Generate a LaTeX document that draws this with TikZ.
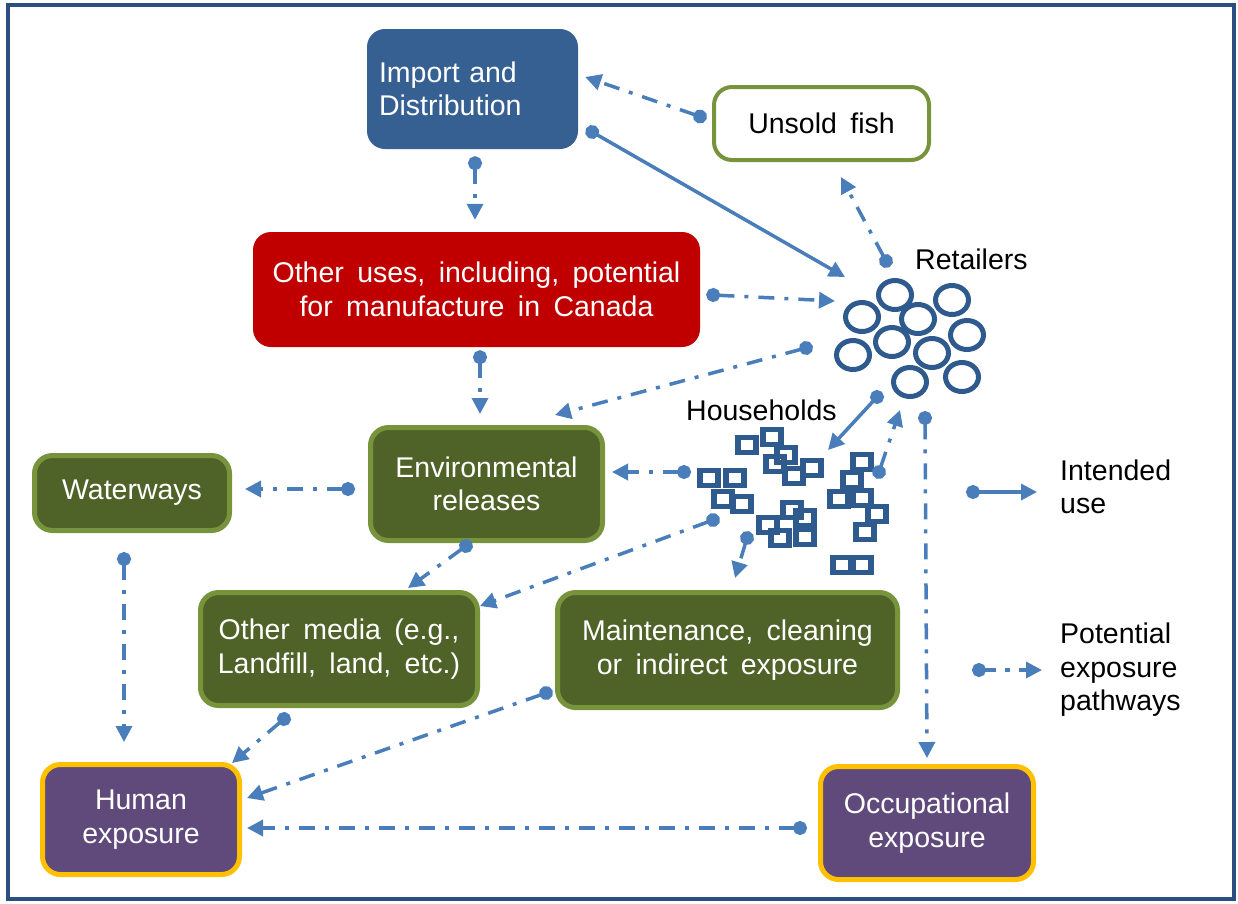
\documentclass[tikz,border=0pt]{standalone}
\usepackage{fontspec}
\setmainfont{Liberation Sans}
\usetikzlibrary{arrows.meta,calc}
\definecolor{ablue}{HTML}{4A7EBB}
\definecolor{impblue}{HTML}{376092}
\definecolor{redfill}{HTML}{C00000}
\definecolor{gfill}{HTML}{4F6228}
\definecolor{gline}{HTML}{77933C}
\definecolor{pfill}{HTML}{604A7B}
\definecolor{gold}{HTML}{FFC000}
\definecolor{shapeblue}{HTML}{2F5A8E}
\definecolor{frameblue}{HTML}{2A4F80}
\newcommand{\diagfont}{\fontsize{28.5}{33.5}\selectfont\spaceskip=0.47em plus 0.1em minus 0.05em\relax}
\begin{document}
\begin{tikzpicture}[x=1pt,y=-1pt,
  font=\diagfont,
  box/.style={rounded corners=18pt, align=center, inner sep=0pt, text=white},
  greenbox/.style={box, fill=gfill, draw=gline, line width=5pt},
  purplebox/.style={box, fill=pfill, draw=gold, line width=5pt},
  pw/.style={draw=ablue, line width=3.5pt, dash pattern=on 16pt off 10pt on 4pt off 10pt,
    {Circle[length=14pt]}-{Triangle[length=16pt,width=16pt]}, shorten <=-7pt},
  iu/.style={draw=ablue, line width=3.5pt,
    {Circle[length=14pt]}-{Triangle[length=16pt,width=16pt]}, shorten <=-7pt},
  lbl/.style={text=black, inner sep=0pt},
  ring/.style={draw=shapeblue, line width=5pt},
  sq/.style={draw=shapeblue, line width=5.5pt}]
\useasboundingbox (0,0) rectangle (1238,903);
\draw[frameblue, line width=4.5pt] (8,5) rectangle (1234,899);

% nodes
\node[box, fill=impblue, minimum width=211pt, minimum height=120pt, text width=187pt, align=left, inner xsep=12pt] (imp) at (472.5,89) {Import and\\Distribution};
\node[box, fill=white, text=black, draw=gline, line width=4pt, minimum width=215pt, minimum height=73pt] (uns) at (821.5,123.5) {Unsold fish};
\node[box, fill=redfill, minimum width=447pt, minimum height=115pt] (oth) at (476.5,289.5) {Other uses, including, potential\\for manufacture in Canada};
\node[greenbox, minimum width=232pt, minimum height=113pt] (env) at (486.5,484) {Environmental\\releases};
\node[greenbox, minimum width=195pt, minimum height=75pt] (wat) at (132,493) {Waterways};
\node[greenbox, minimum width=277pt, minimum height=113pt] (med) at (339,649) {Other media (e.g.,\\Landfill, land, etc.)};
\node[greenbox, minimum width=340pt, minimum height=115pt] (mnt) at (727.5,650) {Maintenance, cleaning\\or indirect exposure};
\node[purplebox, minimum width=197pt, minimum height=110pt] (hum) at (141,819.5) {Human\\exposure};
\node[purplebox, minimum width=213pt, minimum height=113pt] (occ) at (927,823) {Occupational\\exposure};

% retailers
\coordinate (ret) at (910,338);
\node[lbl, anchor=west] (retl) at (915,259) {Retailers};
\foreach \cx/\cy in {895/295, 952/300, 862/317, 918/319, 967/335, 892/342, 853/355, 932/353, 910/382, 962/377}
  \draw[ring] (\cx,\cy) ellipse [x radius=16.5pt, y radius=14.5pt];

% households
\coordinate (hh) at (790,500);
\node[lbl, anchor=west] (hhl) at (686,410) {Households};
\foreach \cx/\cy in {747/445, 772/437, 786/455, 775/464, 794/476, 812/468, 709/478, 735/478, 723/499, 742/504, 768/525, 792/510, 805/518, 780/538, 805/537, 862/462, 852/480, 839/499, 862/498, 877/514, 865/532, 842/565, 862/565}
  \draw[sq] (\cx,\cy) ++(-9,-7.5) rectangle ++(18,15);

% connectors
\draw[pw] ($(uns.west)+(-12,-7)$) -- ($(imp.east)+(7,-12)$);
\draw[iu] ($(imp.east)+(14,43)$) -- ($(ret)+(-65,-61)$);
\draw[pw] ($(imp.south)+(2.5,14)$) -- ($(oth.north)+(-1.5,-12)$);
\draw[pw] ($(ret)+(-24,-77)$) -- ($(uns.south)+(19.5,15)$);
\draw[pw] ($(oth.east)+(13,5.5)$) -- ($(ret)+(-75,-37)$);
\draw[pw] ($(ret)+(-104,10)$) -- ($(env.north)+(68.5,-10)$);
\draw[pw] ($(oth.south)+(3.5,10)$) -- ($(env.north)+(-6.5,-11)$);
\draw[iu] ($(ret)+(-33,59)$) -- ($(hh)+(38,-50)$);
\draw[pw] ($(hh)+(89,-28)$) -- ($(ret)+(-10,72)$);
\draw[pw] ($(ret)+(15,80)$) -- ($(occ.north)+(0,-6)$);
\draw[pw] ($(hh)+(-106,-28)$) -- ($(env.east)+(7,-12)$);
\draw[pw] ($(env.west)+(-20,5)$) -- ($(wat.east)+(13,-4)$);
\draw[pw] ($(env.south)+(-20.5,3)$) -- ($(med.north)+(69,-2)$);
\draw[pw] ($(hh)+(-77,20)$) -- ($(med.east)+(0,-43)$);
\draw[pw] ($(hh)+(-43,38)$) -- ($(mnt.north)+(7.5,-12)$);
\draw[pw] ($(wat.south)+(-8,26)$) -- ($(hum.north)+(-17,-20)$);
\draw[pw] ($(med.south)+(-55,11)$) -- ($(hum.east)+(-10,-56.5)$);
\draw[pw] ($(mnt.west)+(-9,43)$) -- ($(hum.east)+(5,-21.5)$);
\draw[pw] ($(occ.west)+(-18,5)$) -- ($(hum.east)+(5,8.5)$);

% legend
\coordinate (l1a) at (973,492);
\coordinate (l1b) at (1037,492);
\coordinate (l2a) at (979,670);
\coordinate (l2b) at (1042,670);
\draw[iu] (l1a) -- (l1b);
\draw[pw, dash pattern=on 12pt off 9pt on 5pt off 9pt] (l2a) -- (l2b);
\node[lbl, anchor=west, align=left] (leg1) at (1060,487) {Intended\\use};
\node[lbl, anchor=west, align=left] (leg2) at (1060,670) {Potential\\exposure\\pathways};
\end{tikzpicture}
\end{document}
